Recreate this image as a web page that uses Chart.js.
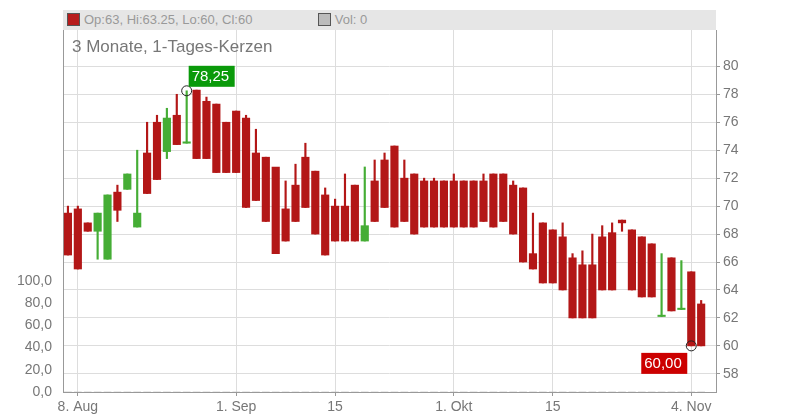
<!DOCTYPE html>
<html>
<head>
<meta charset="utf-8">
<script src="https://cdn.jsdelivr.net/npm/chart.js@4"></script>
<style>
  body { margin: 0; background: #fff; font-family: "Liberation Sans", Arial, sans-serif; }
  #wrap { position: relative; width: 800px; height: 420px; }
  #head { position: absolute; left: 63px; top: 10px; width: 653px; height: 20px; background: #e6e6e6; font-size: 13px; color: #999; line-height: 20px; }
  #head span.sq { display: inline-block; width: 11px; height: 11px; border: 1px solid #555; vertical-align: -2px; margin: 0 4px 0 4px; }
  #sub { position: absolute; left: 72px; top: 37px; font-size: 17px; color: #777; }
  canvas { position: absolute; left: 0; top: 0; }
</style>
</head>
<body>
<div id="wrap">
  <canvas id="c" width="800" height="420"></canvas>
  <div id="head"><span class="sq" style="background:#b71c1c"></span>Op:63, Hi:63.25, Lo:60, Cl:60 &nbsp;&nbsp;&nbsp;&nbsp;&nbsp;&nbsp;&nbsp;&nbsp;&nbsp;&nbsp;&nbsp;&nbsp;&nbsp;&nbsp;&nbsp;&nbsp;<span class="sq" style="background:#bbb"></span>Vol: 0</div>
  <div id="sub">3 Monate, 1-Tages-Kerzen</div>
</div>
<script>
const opens  = [69.5,69.8,68.8,68.2,66.2,71.0,71.2,68.5,73.8,76.0,73.9,76.5,74.5,78.3,77.5,77.3,76.0,76.8,76.3,73.8,73.5,72.8,69.8,71.5,73.5,72.5,70.8,70.0,70.0,71.5,67.5,71.8,73.3,74.3,72.0,72.3,71.8,71.8,71.8,71.8,71.8,71.8,71.8,72.3,72.3,71.5,71.3,66.6,68.8,68.3,67.8,66.3,65.8,65.8,67.8,68.1,69.0,68.3,67.8,67.3,62.1,66.3,62.6,65.3,63.0];
const closes = [66.5,65.5,68.2,69.5,70.8,69.7,72.3,69.5,70.9,71.9,76.3,74.4,74.6,73.4,73.4,72.4,72.4,72.4,69.9,70.4,68.9,66.6,67.5,68.9,69.9,68.0,66.5,67.5,67.5,67.5,68.6,68.9,69.9,68.5,68.9,68.0,68.5,68.5,68.5,68.5,68.5,68.5,68.9,68.5,68.9,68.0,66.0,65.5,64.5,64.5,64.0,62.0,62.0,62.0,64.0,64.0,68.8,64.0,63.5,63.5,62.2,62.5,62.7,60.0,60.0];
const highs  = [70.0,70.0,68.8,69.5,70.8,71.5,72.3,74.0,76.0,76.5,77.0,78.0,78.25,78.3,77.8,77.3,76.0,76.8,76.5,75.5,73.5,71.8,71.8,73.0,74.5,72.5,71.3,70.5,72.3,71.5,72.8,73.3,73.8,74.3,73.3,72.3,72.0,72.0,71.8,72.3,71.8,71.8,72.3,72.3,72.3,71.8,71.3,69.5,68.8,68.3,68.8,66.6,66.8,68.0,68.6,68.8,69.0,68.3,67.8,67.3,66.6,66.3,66.1,65.3,63.25];
const lows   = [66.5,65.5,68.2,66.2,66.2,68.9,71.2,68.5,70.9,71.9,73.4,74.4,74.5,73.4,73.4,72.4,72.4,72.4,69.9,70.4,68.9,66.6,67.5,68.9,69.9,68.0,66.5,67.5,67.5,67.5,67.5,68.9,69.9,68.5,68.9,68.0,68.5,68.5,68.5,68.5,68.5,68.5,68.9,68.5,68.9,68.0,66.0,65.5,64.5,64.5,64.0,62.0,62.0,62.0,64.0,64.0,68.2,64.0,63.5,63.5,62.1,62.5,62.6,60.0,60.0];
const volumes = opens.map(() => 0);
const tickLabels = { 1: '8. Aug', 17: '1. Sep', 27: '15', 39: '1. Okt', 49: '15', 63: '4. Nov' };
const priceTicks = [58, 60, 62, 64, 66, 68, 70, 72, 74, 76, 78, 80];
const volumeTicks = [0, 20, 40, 60, 80, 100];
// one empty slot after the last candle, as in the reference
const labels = [...opens.map((_, i) => i), opens.length];
const idx = opens.map((_, i) => i);

const red = '#b31717';
const green = '#45ad35';
const colorOf = (i) => (closes[i] > opens[i] ? green : red);
const de = (v, d) => v.toFixed(d).replace('.', ',');

const markers = {
  id: 'markers',
  afterDatasetsDraw(chart) {
    const { ctx, scales: { x, y } } = chart;
    const spots = [{ i: 12, v: 78.25, bg: '#0a9a0a', dx: 2, dy: -25 }, { i: 63, v: 60, bg: '#cc0000', dx: -50, dy: 7 }];
    ctx.save();
    spots.forEach((s) => {
      const px = x.getPixelForValue(s.i);
      const py = y.getPixelForValue(s.v);
      ctx.beginPath();
      ctx.arc(px, py, 5, 0, Math.PI * 2);
      ctx.strokeStyle = '#222';
      ctx.lineWidth = 1;
      ctx.stroke();
      ctx.fillStyle = s.bg;
      ctx.fillRect(px + s.dx, py + s.dy, 46, 21);
      ctx.fillStyle = '#fff';
      ctx.font = '15px "Liberation Sans", Arial';
      ctx.textBaseline = 'middle';
      ctx.fillText(de(s.v, 2), px + s.dx + 3, py + s.dy + 11);
    });
    ctx.restore();
  }
};

new Chart(document.getElementById('c'), {
  type: 'bar',
  data: {
    labels,
    datasets: [
      { data: idx.map((i) => [lows[i], highs[i]]), backgroundColor: idx.map(colorOf), barThickness: 1.5, grouped: false, order: 2, yAxisID: 'y' },
      { data: idx.map((i) => [opens[i], closes[i] === opens[i] ? opens[i] + 0.05 : closes[i]]), backgroundColor: idx.map(colorOf), barThickness: 7.5, grouped: false, order: 1, yAxisID: 'y' },
      { data: volumes, backgroundColor: '#bbb', barThickness: 7, grouped: false, order: 3, yAxisID: 'vol' }
    ]
  },
  options: {
    animation: false,
    responsive: false,
    layout: { padding: { top: 30 } },
    plugins: { legend: { display: false }, tooltip: { enabled: false } },
    scales: {
      x: {
        offset: true,
        grid: { color: '#ddd', drawTicks: true, tickLength: 4, tickColor: '#999', offset: false },
        border: { color: '#999' },
        ticks: { autoSkip: false, maxRotation: 0, color: '#777', font: { size: 14, family: 'Liberation Sans' }, callback: (v) => tickLabels[v] ?? '' },
        afterBuildTicks: (s) => { s.ticks = Object.keys(tickLabels).map((k) => ({ value: Number(k) })); },
        afterFit: (s) => { s.height = 28; }
      },
      y: {
        position: 'right', min: 56.7, max: 82.6,
        grid: { color: '#ddd', tickLength: 4, tickColor: '#999' },
        border: { color: '#999' },
        ticks: { color: '#777', font: { size: 14, family: 'Liberation Sans' }, padding: 3 },
        afterBuildTicks: (s) => { s.ticks = priceTicks.map((v) => ({ value: v })); },
        afterFit: (s) => { s.width = 84; }
      },
      vol: {
        position: 'left', min: 0, max: 326,
        grid: { display: false },
        border: { color: '#999' },
        ticks: { color: '#777', font: { size: 14, family: 'Liberation Sans' }, callback: (v) => de(v, 1) },
        afterBuildTicks: (s) => { s.ticks = volumeTicks.map((v) => ({ value: v })); },
        afterFit: (s) => { s.width = 63; }
      }
    }
  },
  plugins: [markers]
});
</script>
</body>
</html>
